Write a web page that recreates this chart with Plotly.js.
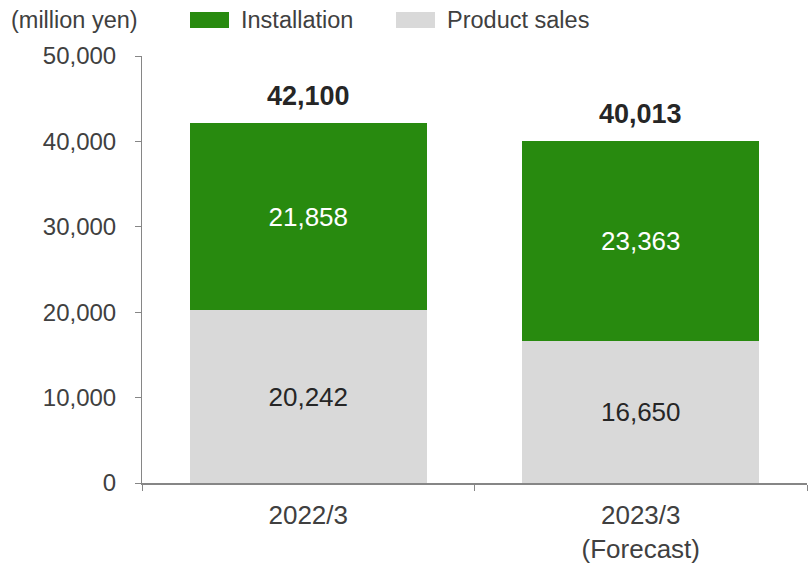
<!DOCTYPE html>
<html>
<head>
<meta charset="utf-8">
<script src="https://cdn.plot.ly/plotly-3.0.1.min.js"></script>
<style>
  html, body { margin: 0; padding: 0; background: #fff; }
  #chart { width: 808px; height: 563px; }
</style>
</head>
<body>
<div id="chart"></div>
<script>
// Net sales by segment (million yen)
const categories = ['2022/3', '2023/3<br>(Forecast)'];
const productSales = [20242, 16650];
const installation = [21858, 23363];
const seriesNames = ['Installation', 'Product sales'];
const unitLabel = '(million yen)';
const yTickValues = [0, 10000, 20000, 30000, 40000, 50000];

const GREEN = '#288A0F';
const GREY = '#D9D9D9';
const TEXT = '#404040';
const FONT = 'Arial, "Liberation Sans", sans-serif';

const W = 808, H = 563;
const M = { l: 142, r: 1, t: 56, b: 80 };
const plotW = W - M.l - M.r, plotH = H - M.t - M.b;
// pixel -> paper coordinate helpers for the legend block above the plot
const px = x => (x - M.l) / plotW;
const py = y => (H - M.b - y) / plotH;

const fmt = v => v.toLocaleString('en-US');
const totals = productSales.map((v, i) => v + installation[i]);

const traces = [
  {
    type: 'bar', name: seriesNames[1], x: categories, y: productSales,
    marker: { color: GREY },
    text: productSales.map(fmt), textposition: 'inside', insidetextanchor: 'middle',
    textfont: { family: FONT, size: 26, color: '#262626' },
    width: 0.713, hoverinfo: 'skip'
  },
  {
    type: 'bar', name: seriesNames[0], x: categories, y: installation,
    marker: { color: GREEN },
    text: installation.map(fmt), textposition: 'inside', insidetextanchor: 'middle',
    textfont: { family: FONT, size: 26, color: '#ffffff' },
    width: 0.713, hoverinfo: 'skip'
  }
];

// totals above each stack
const annotations = categories.map((c, i) => ({
  x: c, y: totals[i], xref: 'x', yref: 'y',
  text: '<b>' + fmt(totals[i]) + '</b>',
  showarrow: false, yanchor: 'bottom', yshift: 10,
  font: { family: FONT, size: 27, color: '#262626' }
}));

// unit label and legend entries
annotations.push({
  x: px(9), y: py(20), xref: 'paper', yref: 'paper', xanchor: 'left', yanchor: 'middle',
  text: unitLabel, showarrow: false, font: { family: FONT, size: 23.5, color: TEXT }
});
const legendItems = [
  { name: seriesNames[0], color: GREEN, x0: 190, tx: 239 },
  { name: seriesNames[1], color: GREY, x0: 396, tx: 445 }
];
const shapes = [];
legendItems.forEach(it => {
  shapes.push({
    type: 'rect', xref: 'paper', yref: 'paper',
    x0: px(it.x0), x1: px(it.x0 + 39), y0: py(28), y1: py(12),
    fillcolor: it.color, line: { width: 0 }
  });
  annotations.push({
    x: px(it.tx), y: py(20), xref: 'paper', yref: 'paper', xanchor: 'left', yanchor: 'middle',
    text: it.name, showarrow: false, font: { family: FONT, size: 23.5, color: TEXT }
  });
});

const layout = {
  width: W, height: H,
  margin: M,
  paper_bgcolor: '#fff', plot_bgcolor: '#fff',
  barmode: 'stack', showlegend: false,
  font: { family: FONT, color: TEXT },
  xaxis: {
    type: 'category', range: [-0.5, 1.5],
    showline: true, linecolor: '#868686', linewidth: 2,
    ticks: 'outside', ticklen: 6, tickcolor: '#868686', tickwidth: 1,
    tickson: 'boundaries', ticklabelstandoff: 8,
    tickfont: { family: FONT, size: 26, color: TEXT },
    showgrid: false, zeroline: false, fixedrange: true
  },
  yaxis: {
    range: [0, 50000], tickvals: yTickValues, tickformat: ',d',
    showline: true, linecolor: '#868686', linewidth: 1,
    ticks: 'outside', ticklen: 6, tickcolor: '#868686',
    ticklabelstandoff: 14,
    tickfont: { family: FONT, size: 24, color: TEXT },
    showgrid: false, zeroline: false, fixedrange: true
  },
  annotations, shapes
};

Plotly.newPlot('chart', traces, layout, { staticPlot: true, displayModeBar: false });
</script>
</body>
</html>
